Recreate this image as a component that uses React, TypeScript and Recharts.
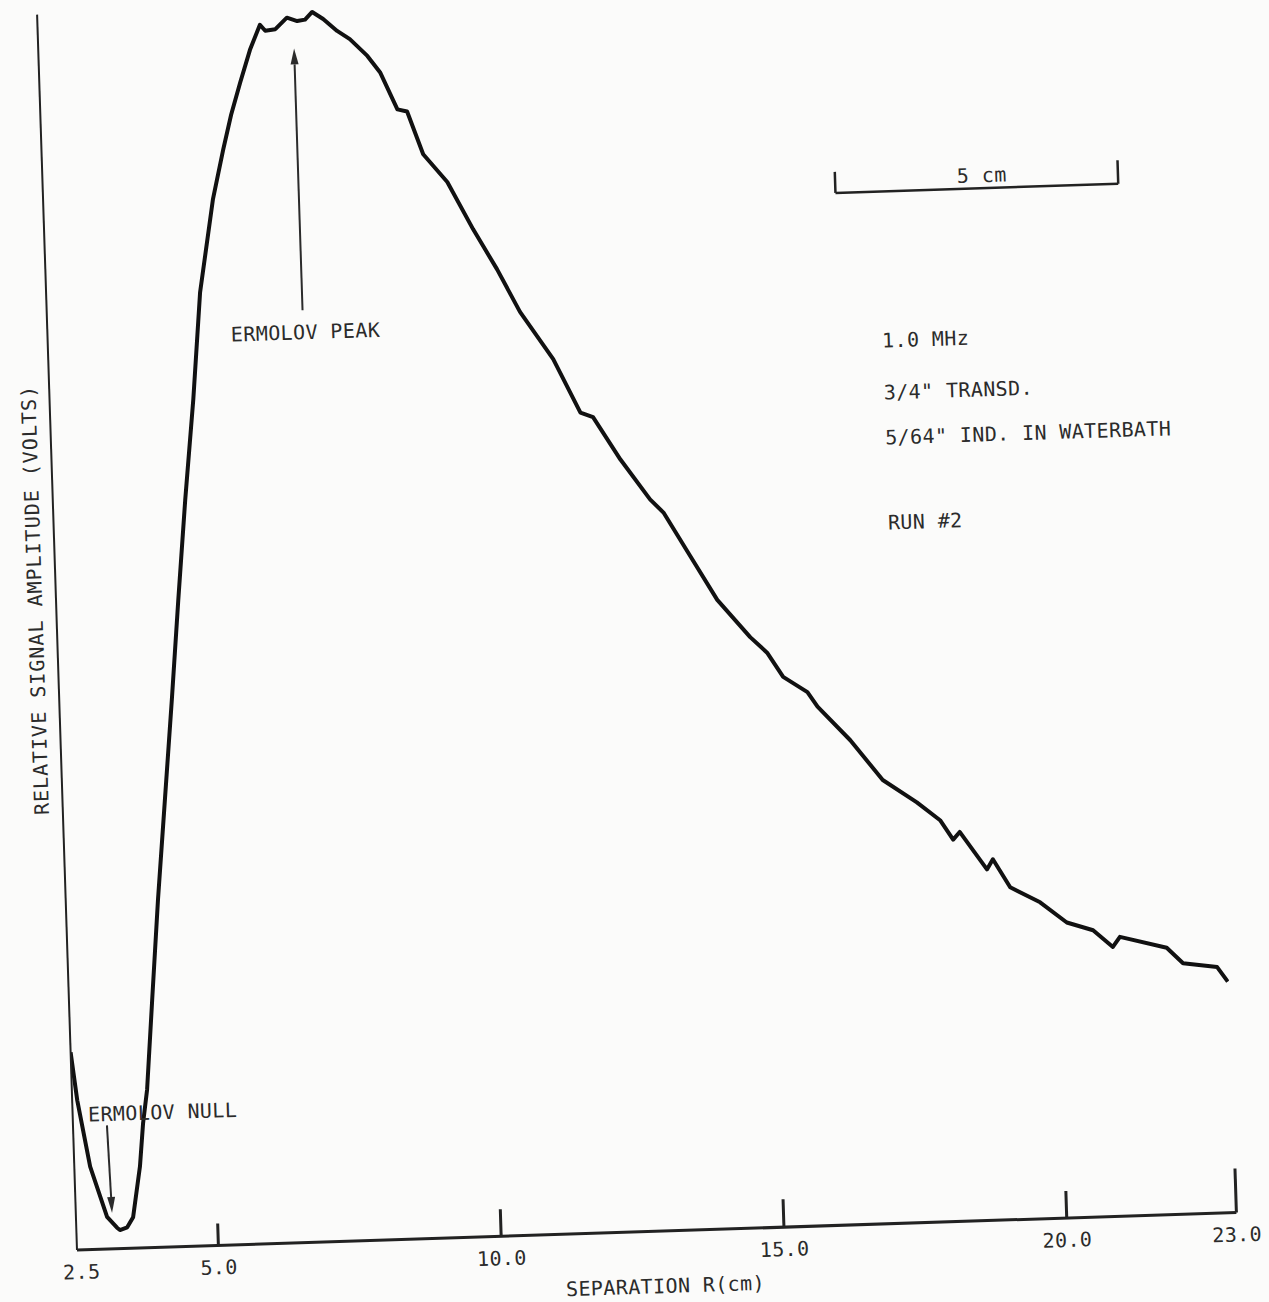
import React from 'react';
import { LineChart, Line, XAxis, YAxis, ReferenceLine } from 'recharts';

// Separation R (cm) and relative signal amplitude (arbitrary units, 0-100 = axis height)
const separationCm = [
  2.50, 2.59, 2.78, 3.05, 3.22, 3.27, 3.40, 3.51, 3.66, 3.74, 3.83, 3.97, 4.13, 4.31, 4.49, 4.66,
  4.84, 5.04, 5.22, 5.50, 5.71, 5.87, 6.05, 6.24, 6.43, 6.52, 6.70, 6.91, 7.09, 7.23, 7.36, 7.55,
  7.79, 8.01, 8.31, 8.53, 8.81, 8.98, 9.24, 9.65, 10.08, 10.48, 10.86, 11.42, 11.87, 12.09, 12.55,
  13.05, 13.28, 13.73, 14.18, 14.74, 15.03, 15.30, 15.72, 15.89, 16.45, 17.00, 17.59, 17.99, 18.21,
  18.33, 18.79, 18.90, 19.19, 19.71, 20.17, 20.63, 20.97, 21.10, 21.92, 22.20, 22.80, 22.98,
];
const amplitude = [
  16.0, 12.1, 6.7, 2.6, 1.7, 1.5, 1.7, 2.5, 6.6, 10.1, 12.8, 20.0, 28.1, 36.2, 44.3, 52.3,
  60.4, 68.5, 77.1, 84.6, 88.6, 91.4, 94.0, 96.6, 98.6, 98.1, 98.2, 99.1, 98.8, 98.9, 99.5, 98.9,
  97.9, 97.2, 95.8, 94.4, 91.4, 91.2, 87.7, 85.4, 81.5, 78.2, 74.7, 70.8, 66.4, 66.0, 62.5,
  59.2, 58.1, 54.5, 50.9, 47.8, 46.5, 44.5, 43.2, 42.0, 39.2, 35.9, 34.0, 32.5, 30.9,
  31.5, 28.4, 29.2, 26.9, 25.6, 23.9, 23.2, 21.8, 22.6, 21.6, 20.3, 19.9, 18.7,
];

const xTicks = [2.5, 5, 10, 15, 20, 23];
const xTickLabels = ['2.5', '5.0', '10.0', '15.0', '20.0', '23.0'];
const xTickLengths = [0, 22, 27, 28, 27, 44];

const xAxisTitle = 'SEPARATION R(cm)';
const yAxisTitle = 'RELATIVE SIGNAL AMPLITUDE (VOLTS)';
const notes = ['1.0 MHz', '3/4" TRANSD.', '5/64" IND. IN WATERBATH', 'RUN #2'];
const peakLabel = 'ERMOLOV PEAK';
const nullLabel = 'ERMOLOV NULL';
const scaleBarLabel = '5 cm';

// annotation anchors in data units
const peakArrow = [{ x: 7.02, y: 75.4 }, { x: 7.02, y: 96.6 }];
const nullArrow = [{ x: 3.10, y: 10.0 }, { x: 3.14, y: 2.9 }];
const scaleBar = [{ x: 16.5, y: 83.5 }, { x: 21.5, y: 83.5 }];
const scaleBarLeftTick = [{ x: 16.5, y: 83.5 }, { x: 16.5, y: 85.2 }];
const scaleBarRightTick = [{ x: 21.5, y: 83.5 }, { x: 21.5, y: 85.4 }];

const INK = '#2b2b2b';
const AXIS = '#222';
const FONT = '"DejaVu Sans Mono", "Liberation Mono", monospace';

const Arrow = (props: any) => {
  const { x1, y1, x2, y2 } = props;
  const dx = x2 - x1;
  const dy = y2 - y1;
  const len = Math.sqrt(dx * dx + dy * dy) || 1;
  const ux = dx / len;
  const uy = dy / len;
  const hl = 16;
  const hw = 4;
  const bx = x2 - ux * hl;
  const by = y2 - uy * hl;
  const pts = `${x2},${y2} ${bx - uy * hw},${by + ux * hw} ${bx + uy * hw},${by - ux * hw}`;
  return (
    <g>
      <line x1={x1} y1={y1} x2={bx} y2={by} stroke={INK} strokeWidth={2} />
      <polygon points={pts} fill={INK} />
    </g>
  );
};

const Tick = (props: any) => {
  const { x, y, payload } = props;
  const i = xTicks.indexOf(payload.value);
  const len = i >= 0 ? xTickLengths[i] : 0;
  const label = i >= 0 ? xTickLabels[i] : String(payload.value);
  return (
    <g>
      {len > 0 && <line x1={x} x2={x} y1={y} y2={y - len} stroke={AXIS} strokeWidth={3} />}
      <text x={x + (i === 0 ? 4 : 0)} y={y + 29} textAnchor="middle" fontFamily={FONT} fontSize={20} letterSpacing={0.4} fill={INK}>
        {label}
      </text>
    </g>
  );
};

export default function App() {
  const data = separationCm.map((x, i) => ({ x, y: amplitude[i] }));
  const textStyle = { fontFamily: FONT, fontSize: 20, letterSpacing: 0.4, fill: INK } as any;
  return (
    <div style={{ position: 'absolute', left: 0, top: 0, width: 1269, height: 1302, overflow: 'hidden', background: '#fbfbfa' }}>
      <div
        style={{
          position: 'absolute',
          left: 0,
          top: 0,
          width: 1269,
          height: 1340,
          transform: 'rotate(-1.85deg)',
          transformOrigin: '77px 1250px',
        }}
      >
        <LineChart width={1269} height={1340} data={data} margin={{ top: 14, right: 32, bottom: 60, left: 67 }}>
          <XAxis
            type="number"
            dataKey="x"
            domain={[2.5, 23]}
            ticks={xTicks}
            interval={0}
            allowDataOverflow
            height={30}
            tickLine={false}
            tickSize={0}
            tickMargin={0}
            tick={<Tick />}
            axisLine={{ stroke: AXIS, strokeWidth: 3 }}
          />
          <YAxis
            type="number"
            domain={[0, 100]}
            width={10}
            tick={false}
            tickLine={false}
            allowDataOverflow
            axisLine={{ stroke: AXIS, strokeWidth: 2 }}
          />
          <ReferenceLine segment={peakArrow} shape={<Arrow />} />
          <ReferenceLine segment={nullArrow} shape={<Arrow />} />
          <ReferenceLine segment={scaleBar} stroke={AXIS} strokeWidth={2.5} />
          <ReferenceLine segment={scaleBarLeftTick} stroke={AXIS} strokeWidth={2.5} />
          <ReferenceLine segment={scaleBarRightTick} stroke={AXIS} strokeWidth={2.5} />
          <Line
            type="linear"
            dataKey="y"
            stroke="#111"
            strokeWidth={4}
            strokeLinejoin="round"
            dot={false}
            isAnimationActive={false}
          />
        </LineChart>
        <svg
          width={1269}
          height={1340}
          style={{ position: 'absolute', left: 0, top: 0, pointerEvents: 'none' }}
        >
          <text
            transform="translate(56,599) rotate(-90)"
            textAnchor="middle"
            dominantBaseline="central"
            {...textStyle}
            letterSpacing={1}
          >
            {yAxisTitle}
          </text>
          <text x={664} y={1312} textAnchor="middle" {...textStyle}>
            {xAxisTitle}
          </text>
          <text x={335} y={347} textAnchor="middle" {...textStyle}>
            {peakLabel}
          </text>
          <text x={167} y={1122} textAnchor="middle" {...textStyle}>
            {nullLabel}
          </text>
          <text x={1016} y={212} textAnchor="middle" {...textStyle}>
            {scaleBarLabel}
          </text>
          <text x={911} y={374} {...textStyle}>{notes[0]}</text>
          <text x={911} y={426} {...textStyle}>{notes[1]}</text>
          <text x={911} y={471} {...textStyle}>{notes[2]}</text>
          <text x={911} y={556} {...textStyle}>{notes[3]}</text>
        </svg>
      </div>
    </div>
  );
}
